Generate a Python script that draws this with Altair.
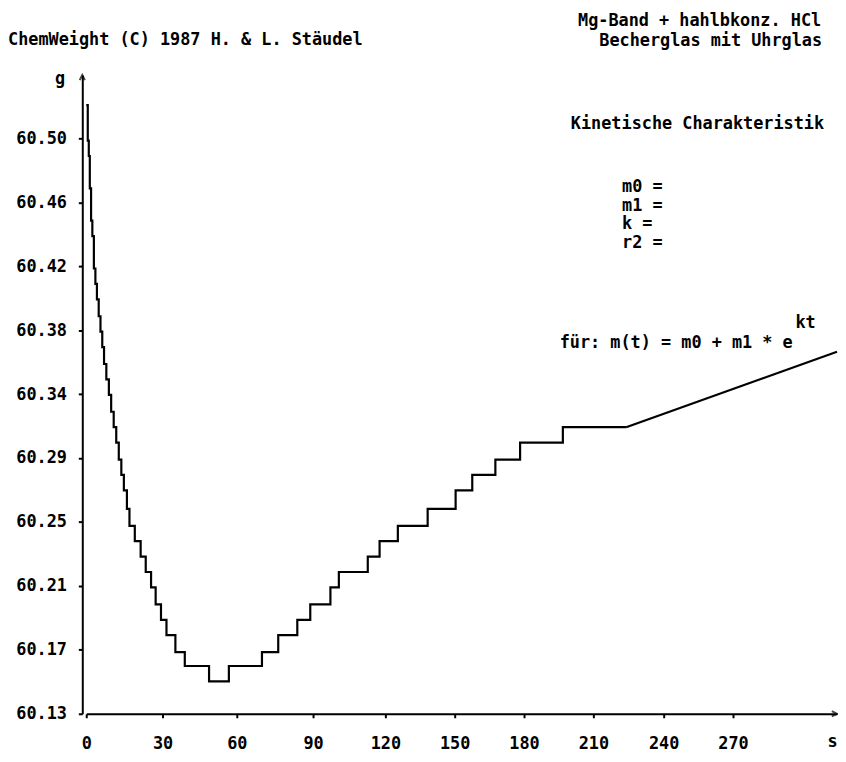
import altair as alt
import pandas as pd

# ---- data (time in s, mass in g) ----
step_t = [0, 0.6, 1.0, 1.4, 1.9, 2.4, 3.0, 3.6, 4.2, 4.9, 5.6, 6.3, 7.0, 7.9, 8.9,
          9.8, 10.8, 11.8, 12.8, 13.8, 14.8, 16.0, 17.0, 19.1, 21.4, 23.4, 25.5,
          27.3, 29.4, 31.6, 35.2, 39.0, 48.8, 56.8, 69.9, 76.3, 83.8, 88.9, 97.2,
          100.7, 112.7, 117.6, 125.4, 138.3, 150.4, 157.6, 167.6, 178.3, 196.8, 224.0]
step_m = [60.523, 60.500, 60.490, 60.469, 60.448, 60.438, 60.417, 60.407, 60.397,
          60.386, 60.376, 60.366, 60.355, 60.345, 60.335, 60.324, 60.314, 60.304,
          60.293, 60.283, 60.273, 60.261, 60.250, 60.240, 60.230, 60.220, 60.210,
          60.199, 60.189, 60.179, 60.168, 60.159, 60.149, 60.159, 60.168, 60.179,
          60.189, 60.199, 60.210, 60.220, 60.230, 60.240, 60.250, 60.261, 60.273,
          60.283, 60.293, 60.304, 60.314, 60.314]
tail_t = [224.0, 315.0]
tail_m = [60.314, 60.363]

x_ticks = [0, 30, 60, 90, 120, 150, 180, 210, 240, 270]
y_tick_labels = ["60.13", "60.17", "60.21", "60.25", "60.29",
                 "60.34", "60.38", "60.42", "60.46", "60.50"]
y_base, y_step = 60.128, 0.0415

FONT = "DejaVu Sans Mono"
FS = 17
FW = "bold"
W, H = 762, 645
XMAX = 315
YMIN, YMAX = 60.128, 60.5426

# the printed time axis is slightly uneven: piecewise mapping of ticks to pixels
x_dom = x_ticks + [XMAX]
x_rng = [4, 81, 156, 233, 306, 376, 446, 516, 587, 657, W]

y_tick_vals = [round(y_base + i * y_step, 4) for i in range(len(y_tick_labels))]
label_expr = "[" + ",".join("'%s'" % s for s in y_tick_labels) + \
    "][round((datum.value-%s)/%s)]" % (y_base, y_step)

xscale = alt.Scale(domain=x_dom, range=x_rng, nice=False, zero=False)
yscale = alt.Scale(domain=[YMIN, YMAX], nice=False, zero=False)

steps = pd.DataFrame({"t": step_t, "m": step_m})
tail = pd.DataFrame({"t": tail_t, "m": tail_m})

common = dict(labelFont=FONT, labelFontSize=FS, labelFontWeight=FW, labelColor="black",
              titleFont=FONT, titleFontSize=FS, titleFontWeight=FW, titleColor="black",
              titleAngle=0, titleAlign="center", titleBaseline="middle",
              domainColor="black", domainWidth=2, tickColor="black", tickWidth=2,
              tickSize=4, grid=False, labelFlush=False)
xaxis = alt.Axis(values=x_ticks, title="s", titleX=W - 5, titleY=28, labelPadding=18,
                 **common)
yaxis = alt.Axis(values=y_tick_vals, labelExpr=label_expr, title="g", titleX=-23,
                 titleY=4, labelPadding=12, **common)

base_line = alt.Chart(steps).mark_line(interpolate="step-after", color="black",
                                       strokeWidth=2.2).encode(
    x=alt.X("t:Q", scale=xscale, axis=xaxis),
    y=alt.Y("m:Q", scale=yscale, axis=yaxis),
)
tail_line = alt.Chart(tail).mark_line(color="black", strokeWidth=2.2).encode(
    x=alt.X("t:Q", scale=xscale),
    y=alt.Y("m:Q", scale=yscale),
)

arrow_y = alt.Chart(pd.DataFrame({"t": [0], "m": [YMAX]})).mark_point(
    shape="M -0.5 1 L 0 0 L 0.5 1", filled=False, stroke="black", strokeWidth=2,
    size=110, xOffset=-4).encode(x=alt.X("t:Q", scale=xscale), y=alt.Y("m:Q", scale=yscale))
arrow_x = alt.Chart(pd.DataFrame({"t": [XMAX], "m": [YMIN]})).mark_point(
    shape="M -0.5 1 L 0 0 L 0.5 1", filled=False, stroke="black", strokeWidth=2,
    size=110, angle=90).encode(x=alt.X("t:Q", scale=xscale), y=alt.Y("m:Q", scale=yscale))


def label(text, x, y, align="left", size=FS):
    return alt.Chart(pd.DataFrame({"s": [text]})).mark_text(
        font=FONT, fontSize=size, fontWeight=FW, color="black", align=align,
        baseline="middle"
    ).encode(text="s:N", x=alt.value(x), y=alt.value(y))


texts = [
    label("ChemWeight (C) 1987 H. & L. Stäudel", -75, -35),
    label("Mg-Band + hahlbkonz. HCl", 746, -54, "right"),
    label("Becherglas mit Uhrglas", 747, -34, "right"),
    label("Kinetische Charakteristik", 749, 50, "right"),
    label("m0 =", 545, 113),
    label("m1 =", 545, 132),
    label("k  =", 545, 151),
    label("r2 =", 545, 170),
    label("kt", 720, 250),
    label("für: m(t) = m0 + m1 * e", 482, 271),
]

chart = alt.layer(base_line, tail_line, arrow_y, arrow_x, *texts).properties(
    width=W, height=H,
    autosize=alt.AutoSizeParams(type="none"),
    padding={"left": 75, "top": 64, "right": 1, "bottom": 36},
    background="white",
).configure_view(stroke=None)

chart.save("out.html", embed_options={"renderer": "svg", "actions": False})
